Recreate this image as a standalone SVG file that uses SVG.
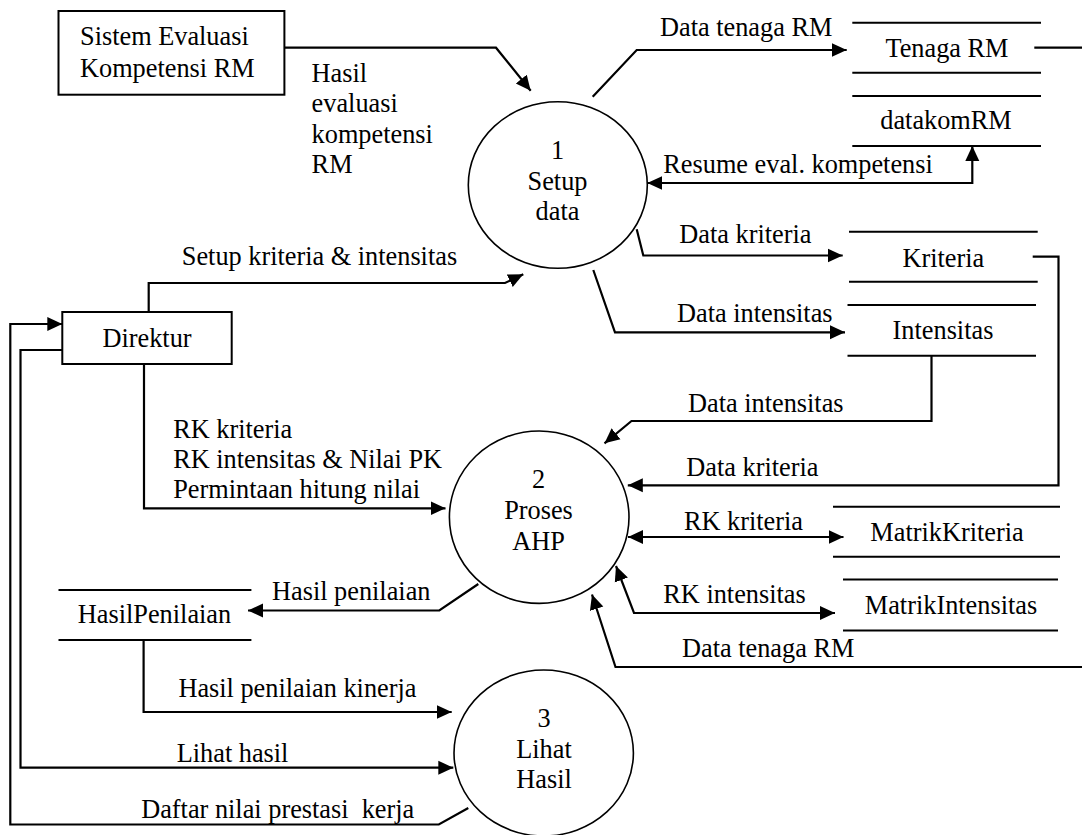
<svg xmlns="http://www.w3.org/2000/svg" width="1082" height="835" viewBox="0 0 1082 835">
<style>
text{font-family:'Liberation Serif',Tinos,'Times New Roman',Times,'DejaVu Serif',serif;font-size:26.3px;fill:#000}
.c{text-anchor:middle}
.box{fill:#fff;stroke:#000;stroke-width:2}
.proc{fill:#fff;stroke:#000;stroke-width:1.6}
.store{stroke:#000;stroke-width:2;fill:none}
.flow{fill:none;stroke:#000;stroke-width:2.2;stroke-linejoin:miter}
.a{marker-end:url(#ah)}
.b{marker-start:url(#ah);marker-end:url(#ah)}
</style>
<defs>
<marker id="ah" markerUnits="userSpaceOnUse" markerWidth="16" markerHeight="16" refX="15" refY="7" orient="auto-start-reverse" viewBox="0 0 16 14">
<path d="M0,0 L15,7 L0,14 z" fill="#000"/>
</marker>
</defs>
<rect width="1082" height="835" fill="#fff"/>

<g id="connectors" font-family="Liberation Serif, serif">
<path class="flow a" d="M284.4,47.7 L496,47.7 L530.7,90.7"/>
<path class="flow a" d="M592.7,96.7 L636.7,50 L846.7,50"/>
<path class="flow" d="M1034.3,47.7 L1082,47.7"/>
<path class="flow b" d="M647.3,183 L972.3,183 L972.3,146"/>
<path class="flow a" d="M636.7,229.3 L643.3,255.5 L842.7,255.5"/>
<path class="flow a" d="M593.3,270 L615,332.3 L845,332.3"/>
<path class="flow a" d="M148.7,312 L148.7,283 L505,283 L523.3,274.3"/>
<path class="flow a" d="M1032.7,256.7 L1058.5,256.7 L1058.5,485.3 L627.8,485.3"/>
<path class="flow a" d="M931.5,356 L931.5,421 L631.5,421 L604.5,443.3"/>
<path class="flow a" d="M144,364 L144,508.3 L445.5,508.3"/>
<path class="flow b" d="M628,537 L843.5,537"/>
<path class="flow b" d="M616,566 L634,613 L835,613"/>
<path class="flow a" d="M1082,667 L615.5,667 L592,594.5"/>
<path class="flow a" d="M478.3,584 L439.3,610.5 L248,610.5"/>
<path class="flow a" d="M143.6,640 L143.6,712 L451.7,712"/>
<path class="flow a" d="M62.3,350 L20.5,350 L20.5,767.7 L453.3,767.7"/>
<path class="flow a" d="M468.3,808 L438.8,824.5 L10.3,824.5 L10.3,324 L62.3,324"/>

<text x="311.6" y="81.7">Hasil</text>
<text x="311.6" y="111.7">evaluasi</text>
<text x="311.6" y="142.7">kompetensi</text>
<text x="311.6" y="173.3">RM</text>
<text x="181.8" y="265">Setup kriteria &amp; intensitas</text>
<text x="660" y="36">Data tenaga RM</text>
<text x="663.3" y="172.7">Resume eval. kompetensi</text>
<text x="679.3" y="243.3">Data kriteria</text>
<text x="677" y="321.7">Data intensitas</text>
<text x="688" y="411.7">Data intensitas</text>
<text x="686.3" y="475.7">Data kriteria</text>
<text x="684" y="530">RK kriteria</text>
<text x="663.3" y="603.3">RK intensitas</text>
<text x="682" y="657.3">Data tenaga RM</text>
<text x="173.2" y="438">RK kriteria</text>
<text x="173.2" y="468">RK intensitas &amp; Nilai PK</text>
<text x="173.2" y="498">Permintaan hitung nilai</text>
<text x="272" y="600">Hasil penilaian</text>
<text x="178.4" y="697.3">Hasil penilaian kinerja</text>
<text x="176.7" y="761.7">Lihat hasil</text>
<text x="141.2" y="818.3" xml:space="preserve">Daftar nilai prestasi  kerja</text>
</g>

<g id="sistem-evaluasi">
<rect class="box" x="58.5" y="11" width="225.9" height="83.7"/>
<text x="80" y="45">Sistem Evaluasi</text>
<text x="80" y="76.7">Kompetensi RM</text>
</g>

<g id="direktur">
<rect class="box" x="62.3" y="312" width="169.4" height="52"/>
<text class="c" x="147" y="346.7">Direktur</text>
</g>

<g id="p1">
<ellipse class="proc" cx="557.8" cy="185" rx="89.5" ry="83.3"/>
<text class="c" x="557.5" y="158.5">1</text>
<text class="c" x="557.5" y="189.5">Setup</text>
<text class="c" x="557.5" y="220">data</text>
</g>

<g id="p2">
<ellipse class="proc" cx="539.2" cy="517.2" rx="89.8" ry="86.2"/>
<text class="c" x="538.5" y="488">2</text>
<text class="c" x="538.5" y="519">Proses</text>
<text class="c" x="538.5" y="550">AHP</text>
</g>

<g id="p3">
<ellipse class="proc" cx="543.7" cy="753" rx="89.7" ry="83"/>
<text class="c" x="544" y="727">3</text>
<text class="c" x="544" y="757.5">Lihat</text>
<text class="c" x="544" y="788.3">Hasil</text>
</g>

<g id="tenaga-rm">
<path class="store" d="M852.3,22.7 H1041 M852.3,72.7 H1041"/>
<text class="c" x="947" y="56.7">Tenaga RM</text>
</g>

<g id="datakomrm">
<path class="store" d="M852.3,96 H1041 M852.3,146 H1041"/>
<text class="c" x="946" y="129.3">datakomRM</text>
</g>

<g id="kriteria">
<path class="store" d="M849,231.7 H1037.7 M849,281.7 H1037.7"/>
<text class="c" x="943.3" y="266.7">Kriteria</text>
</g>

<g id="intensitas">
<path class="store" d="M847.5,305 H1036 M847.5,355.7 H1036"/>
<text class="c" x="943" y="339.3">Intensitas</text>
</g>

<g id="matrikkriteria">
<path class="store" d="M833,506.7 H1060 M833,556.7 H1060"/>
<text class="c" x="947" y="540.7">MatrikKriteria</text>
</g>

<g id="matrikintensitas">
<path class="store" d="M843,579.5 H1058 M843,630.5 H1058"/>
<text class="c" x="951" y="614">MatrikIntensitas</text>
</g>

<g id="hasilpenilaian">
<path class="store" d="M58.5,590 H251.4 M58.5,640 H251.4"/>
<text class="c" x="154.5" y="623.3">HasilPenilaian</text>
</g>
</svg>
